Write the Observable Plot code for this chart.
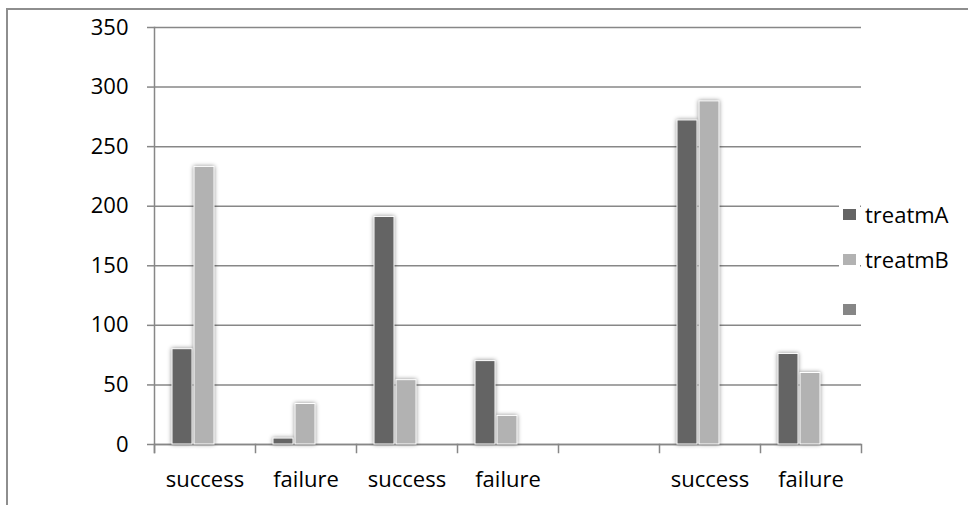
<!DOCTYPE html>
<html><head><meta charset="utf-8">
<script src="https://cdn.jsdelivr.net/npm/d3@7"></script>
<script src="https://cdn.jsdelivr.net/npm/@observablehq/plot@0.6"></script>
<style>
body{margin:0;background:#fff;}
#wrap{position:relative;width:968px;height:505px;overflow:hidden;font-family:"Open Sans",sans-serif;}
#border{position:absolute;left:6px;top:8px;width:990px;height:495px;border-top:2px solid #8e8e8e;border-left:2px solid #8e8e8e;pointer-events:none;}
#wrap svg{position:absolute;left:0;top:0;}
.leg{position:absolute;left:839px;display:flex;align-items:center;font-size:22px;line-height:30px;color:#000;}
.sw{background:#fff;padding:4px;}
.sw span{display:block;width:13px;height:11px;}
.lab{margin-left:5px;}
</style></head><body><div id="wrap"><div id="border"></div></div>
<script>
const categories = ["success", "failure", "success", "failure", "", "success", "failure"];
const treatmA = [80, 5, 191, 70, null, 272, 76];
const treatmB = [233, 34, 54, 24, null, 288, 60];
const series = ["treatmA", "treatmB", ""];
const colors = ["#646464", "#b2b2b2", "#868686"];
const yTicks = [0, 50, 100, 150, 200, 250, 300, 350];

const ids = categories.map((_, i) => i);
const rows = [];
categories.forEach((c, i) => {
  rows.push({cat: i, series: series[0], value: treatmA[i]});
  rows.push({cat: i, series: series[1], value: treatmB[i]});
});

const lineColor = "#878787";
const chart = Plot.plot({
  width: 968, height: 505,
  marginLeft: 153, marginRight: 107, marginTop: 27, marginBottom: 61,
  style: {fontFamily: '"Open Sans", sans-serif', fontSize: "22px", color: "#000", background: "transparent"},
  fx: {domain: ids, padding: 0, label: null},
  x: {domain: series, paddingInner: 0.09, paddingOuter: 0.78, axis: null},
  y: {domain: [0, 350], label: null},
  color: {domain: series, range: colors},
  marks: [
    Plot.gridY(yTicks, {stroke: lineColor, strokeOpacity: 1, strokeWidth: 1.5}),
    Plot.ruleY([0], {stroke: lineColor, strokeWidth: 1.5}),
    Plot.frame({anchor: "left", facetAnchor: "left", insetBottom: -8, stroke: lineColor, strokeWidth: 1.5}),
    Plot.frame({anchor: "left", insetTop: 417, insetBottom: -8, stroke: lineColor, strokeWidth: 1.5}),
    Plot.frame({anchor: "right", facetAnchor: "right", insetTop: 417, insetBottom: -8, stroke: lineColor, strokeWidth: 1.5}),
    Plot.axisY(yTicks, {tickSize: 7, tickPadding: 19, stroke: lineColor, strokeWidth: 1.5, fill: "#000", fontSize: 22, label: null}),
    Plot.axisFx({anchor: "bottom", tickSize: 0, tickPadding: 27, tickFormat: i => categories[i], fill: "#000", fontSize: 22, label: null}),
    Plot.barY(rows, {fx: "cat", x: "series", y: "value", fill: "series", stroke: "#fff", strokeWidth: 1,
      imageFilter: "drop-shadow(0px 0px 2px rgba(0,0,0,0.45))"})
  ]
});
const wrap = document.getElementById("wrap");
wrap.appendChild(chart);

// legend
const legendTops = [199, 244, 294];
series.forEach((s, i) => {
  const item = document.createElement("div");
  item.className = "leg";
  item.style.top = legendTops[i] + "px";
  item.innerHTML = `<div class="sw"><span style="background:${colors[i]}"></span></div><div class="lab">${s || "&nbsp;"}</div>`;
  wrap.appendChild(item);
});
</script>
</body></html>
